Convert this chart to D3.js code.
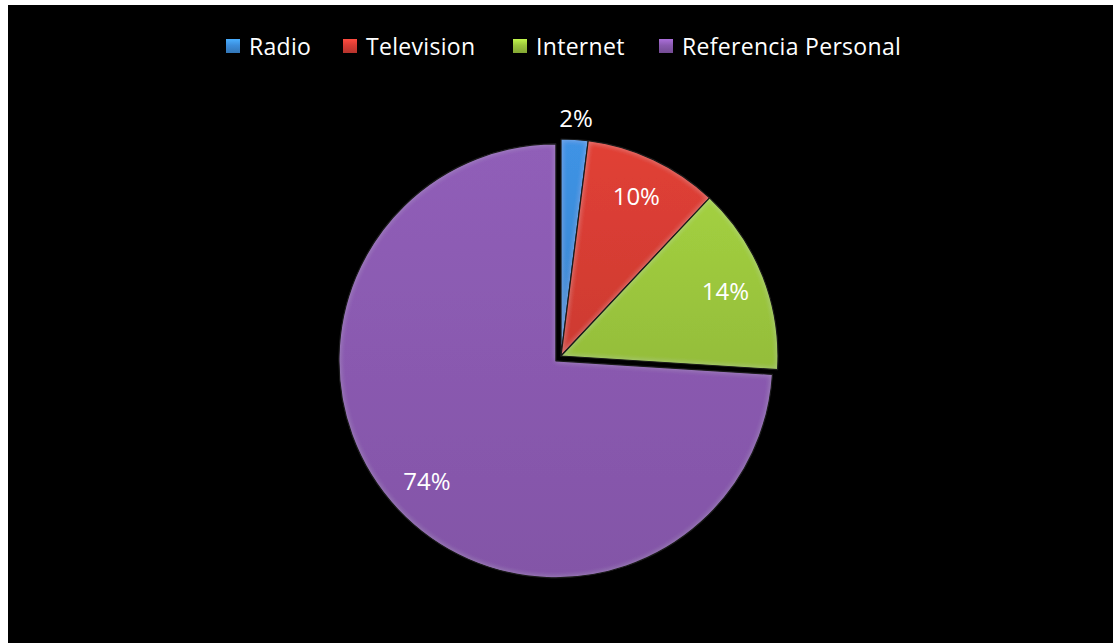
<!DOCTYPE html>
<html>
<head>
<meta charset="utf-8">
<script src="https://cdn.jsdelivr.net/npm/d3@7"></script>
<style>
  html, body { margin: 0; padding: 0; background: #ffffff; }
  svg { display: block; }
</style>
</head>
<body>
<svg id="chart" width="1113" height="643"></svg>
<script>
// Medio por el que se enteraron (porcentaje)
const categories = ["Radio", "Television", "Internet", "Referencia Personal"];
const values = [2, 10, 14, 74];
const colors = ["#3c8ddb", "#d83d34", "#9cc73d", "#8a5ab0"];
const exploded = [false, false, false, true];

const W = 1113, H = 643;
const svg = d3.select("#chart");
const defs = svg.append("defs");

// Bevel-like inner highlight for slices
const bevel = defs.append("filter").attr("id", "bevel")
  .attr("x", "-5%").attr("y", "-5%").attr("width", "110%").attr("height", "110%");
bevel.append("feGaussianBlur").attr("in", "SourceAlpha").attr("stdDeviation", 3).attr("result", "blur");
bevel.append("feComposite").attr("in", "SourceAlpha").attr("in2", "blur")
  .attr("operator", "arithmetic").attr("k2", 1).attr("k3", -1).attr("result", "edge");
bevel.append("feFlood").attr("flood-color", "#ffffff").attr("flood-opacity", 0.2);
bevel.append("feComposite").attr("in2", "edge").attr("operator", "in").attr("result", "hl");
const merge = bevel.append("feMerge");
merge.append("feMergeNode").attr("in", "SourceGraphic");
merge.append("feMergeNode").attr("in", "hl");

// Per-slice vertical shading
colors.forEach((c, i) => {
  const g = defs.append("linearGradient").attr("id", "grad" + i)
    .attr("x1", 0).attr("y1", 0).attr("x2", 0).attr("y2", 1);
  g.append("stop").attr("offset", "0%").attr("stop-color", d3.color(c).brighter(0.12));
  g.append("stop").attr("offset", "100%").attr("stop-color", d3.color(c).darker(0.15));
  const m = defs.append("linearGradient").attr("id", "mk" + i)
    .attr("x1", 0).attr("y1", 0).attr("x2", 0).attr("y2", 1);
  m.append("stop").attr("offset", "0%").attr("stop-color", d3.color(c).brighter(0.6));
  m.append("stop").attr("offset", "45%").attr("stop-color", c);
  m.append("stop").attr("offset", "100%").attr("stop-color", d3.color(c).darker(0.5));
});

// Chart area background
svg.append("rect").attr("x", 8).attr("y", 5).attr("width", W - 8).attr("height", H - 5)
  .attr("fill", "#000000");

// Legend
const legendX = [226, 343, 513, 659];
const legend = svg.append("g").attr("font-family", "'Open Sans', sans-serif")
  .attr("font-size", 23).attr("letter-spacing", 0.3).attr("fill", "#ffffff");
categories.forEach((name, i) => {
  const g = legend.append("g").attr("transform", `translate(${legendX[i]},0)`);
  g.append("rect").attr("x", 0).attr("y", 39).attr("width", 14).attr("height", 14)
    .attr("fill", `url(#mk${i})`);
  g.append("text").attr("x", 23).attr("y", 55).text(name);
});

// Pie
const cx = 561, cy = 356, r = 217, explodeDist = 7;
const pie = d3.pie().sort(null).value(d => d);
const arcs = pie(values);
const arc = d3.arc().innerRadius(0).outerRadius(r);

const pieG = svg.append("g").attr("transform", `translate(${cx},${cy})`);

const slices = pieG.selectAll("g.slice").data(arcs).enter().append("g")
  .attr("class", "slice")
  .attr("transform", (d, i) => {
    if (!exploded[i]) return null;
    const mid = (d.startAngle + d.endAngle) / 2;
    return `translate(${Math.sin(mid) * explodeDist},${-Math.cos(mid) * explodeDist})`;
  });

slices.append("path")
  .attr("d", arc)
  .attr("fill", (d, i) => `url(#grad${i})`)
  .attr("filter", "url(#bevel)");
slices.append("path")
  .attr("d", arc)
  .attr("fill", "none")
  .attr("stroke", "#1a1a1a")
  .attr("stroke-width", 1.2)
  .attr("stroke-linejoin", "round");

// Percentage labels: inside the slice, or just outside when the slice is narrow
const total = d3.sum(values);
slices.append("text")
  .attr("transform", d => {
    const mid = (d.startAngle + d.endAngle) / 2;
    const lr = (d.value / total) < 0.05 ? r + 21 : r * 0.815;
    return `translate(${Math.sin(mid) * lr},${-Math.cos(mid) * lr})`;
  })
  .attr("text-anchor", "middle")
  .attr("dy", "0.36em")
  .attr("font-family", "'Open Sans', sans-serif")
  .attr("font-size", 24)
  .attr("fill", "#ffffff")
  .text(d => Math.round(d.value / total * 100) + "%");
</script>
</body>
</html>
